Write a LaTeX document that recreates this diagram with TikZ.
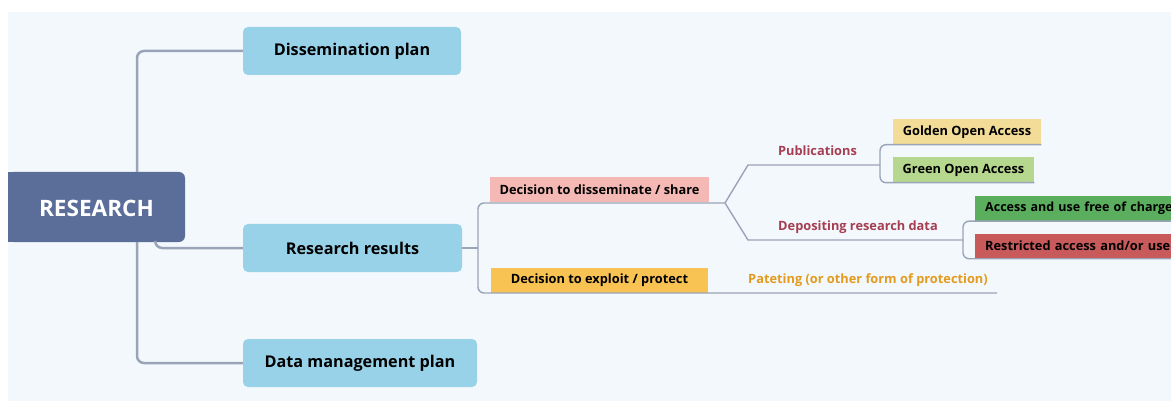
\documentclass[tikz,border=0pt]{standalone}
\usepackage{fontspec}
\setmainfont{Open Sans}
\usetikzlibrary{arrows.meta}
\definecolor{bgc}{HTML}{F3F8FC}
\definecolor{mainc}{HTML}{5A6E99}
\definecolor{topicc}{HTML}{98D2E8}
\definecolor{linec}{HTML}{9AA4B8}
\definecolor{sharec}{HTML}{F4B9B4}
\definecolor{exploitc}{HTML}{F9C353}
\definecolor{goldc}{HTML}{F3DC97}
\definecolor{greenc}{HTML}{B6D78E}
\definecolor{accessc}{HTML}{5BAE5D}
\definecolor{restrc}{HTML}{C85A5B}
\definecolor{maroonc}{HTML}{A63E52}
\definecolor{orangec}{HTML}{E29B1F}

\begin{document}
\begin{tikzpicture}[>=stealth, x=1pt, y=-1pt,
    topic/.style={fill=topicc, rounded corners=5pt, font=\fontsize{16.2}{19}\selectfont\bfseries, minimum height=48},
    leaf/.style={font=\fontsize{12.8}{15}\selectfont\bfseries, minimum height=25, inner xsep=10pt},
    tag/.style={font=\fontsize{12.8}{15}\selectfont\bfseries},
    conn/.style={draw=linec, line width=2.5pt, rounded corners=7pt},
    branch/.style={draw=linec, line width=1.4pt, rounded corners=6pt}]
\useasboundingbox (0,0) rectangle (1171,401);
\fill[white] (0,0) rectangle (1171,401);
\fill[bgc] (8,12) rectangle (1171,401);

%% 中心主题
\node[fill=mainc, rounded corners=6pt, minimum width=177, minimum height=70] (research) at (96.5,207) {};
\fill[mainc] (research.north west) rectangle ([xshift=12pt]research.south west);
\node[text=white, font=\fontsize{22.6}{26}\selectfont\bfseries] (researchtext) at (96.5,208) {RESEARCH};

%% 一级分支
\node[topic, minimum width=218] (dissem) at (352,51) {Dissemination plan};
\node[topic, minimum width=219] (results) at (352.5,248) {Research results};
\node[topic, minimum width=234] (dmp) at (360,363) {Data management plan};

\coordinate (trunk) at (137,0);
\draw[conn] (research.north -| trunk) |- (dissem.west);
\draw[conn] (research.south -| trunk) |- (dmp.west);
\draw[conn] ([xshift=-30pt]research.south east) |- (results.west);

%% 二级分支
\node[leaf, fill=sharec, minimum width=217] (share) at (599.5,189.5) {Decision to disseminate / share};
\node[leaf, fill=exploitc, minimum width=217] (exploit) at (599.5,280.5) {Decision to exploit / protect};
\node[tag, text=orangec] (pat) at (868,280.5) {Pateting (or other form of protection)};

\coordinate (split) at (478,248);
\coordinate (fork) at (725,203);
\coordinate (protend) at (997,293);
\draw[branch] (results.east) -- (split);
\draw[branch] (split) |- (fork);
\draw[branch] (split) |- (protend);

%% 三级分支
\node[tag, text=maroonc] (pub) at (817.5,151) {Publications};
\node[tag, text=maroonc] (dep) at (858,227.5) {Depositing research data};

\coordinate (pubbend) at (748,165);
\coordinate (pubsplit) at (880,165);
\coordinate (depbend) at (748,240);
\coordinate (depsplit) at (963,240);
\draw[branch, sharp corners] (fork) -- (pubbend) -- (pubsplit);
\draw[branch, sharp corners] (fork) -- (depbend) -- (depsplit);

%% 叶子
\node[leaf, fill=goldc, minimum width=146] (golden) at (967,132) {Golden Open Access};
\node[leaf, fill=greenc, minimum width=139] (green) at (963.5,170) {Green Open Access};
\node[leaf, fill=accessc, anchor=west, text width=215, align=left,
      font=\fontsize{12.5}{15}\selectfont\bfseries] (access) at (975,208.5) {Access and use free of charge};
\node[leaf, fill=restrc, anchor=west, text width=215, align=left] (restr) at (975,246) {Restricted access and/or use};

\draw[branch] (pubsplit) |- (golden.south east);
\draw[branch] (pubsplit) |- (green.south east);
\draw[branch] (depsplit) |- (access.south east);
\draw[branch] (depsplit) |- (restr.south east);
\end{tikzpicture}
\end{document}
